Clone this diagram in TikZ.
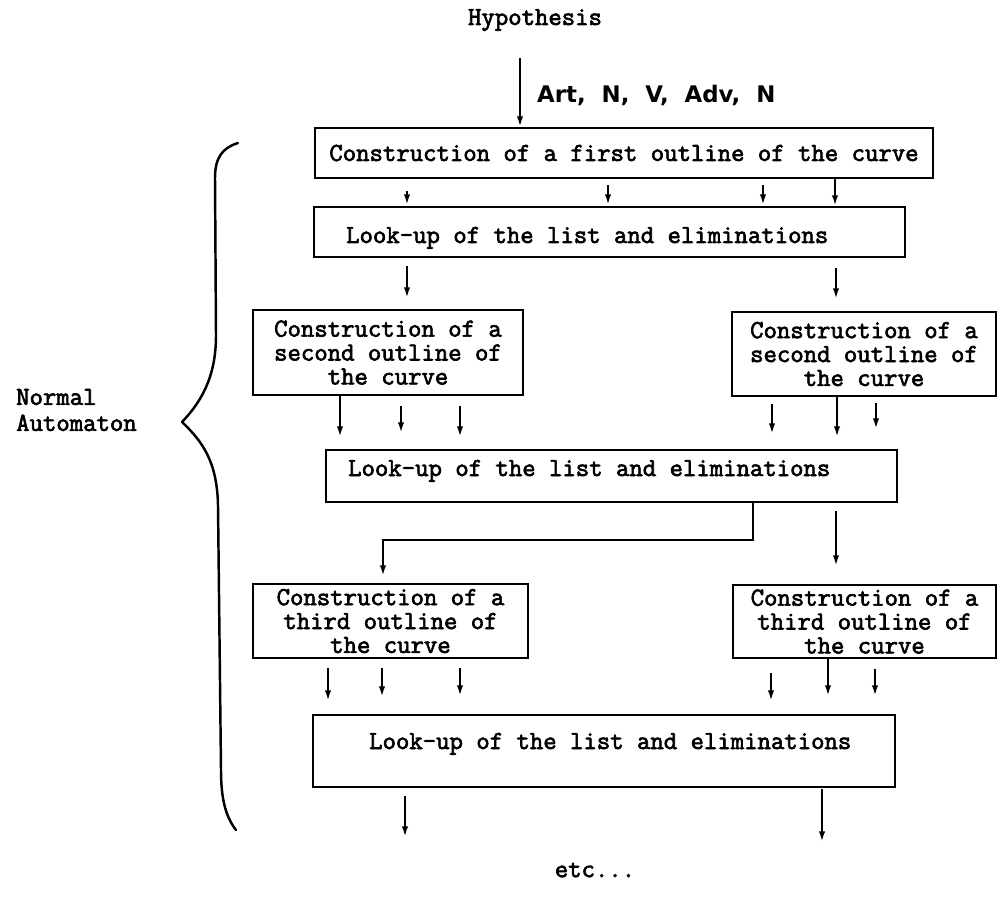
\documentclass[tikz,border=0pt]{standalone}
\usepackage{fontspec}
\newfontfamily\typewriter[FakeBold=2.5]{Latin Modern Mono}
\newfontfamily\tagfont{DejaVu Sans}
\usetikzlibrary{arrows.meta,calc}

\tikzset{
  typed/.style={font={\typewriter\fontsize{14.8}{13.6}\selectfont}},
  tagged/.style={font={\tagfont\bfseries\fontsize{13}{15}\selectfont}},
  stage/.style={draw, line width=1.2pt, inner sep=0pt, typed, align=center},
  arr/.style={line width=1.2pt, -{Latex[length=6pt,width=3.6pt]}},
  brace/.style={line width=1.4pt, line cap=round, line join=round},
}

% vertical feed arrow at abscissa #1, from node anchor #2 (offset #3) to node anchor #4 (offset #5)
\newcommand\feedarrow[5]{\draw[arr] ($(#1,0 |- #2)+(0,#3)$) -- ($(#1,0 |- #4)+(0,#5)$);}

\begin{document}
\begin{tikzpicture}[x=0.02cm,y=-0.02cm]
\path[use as bounding box, fill=white] (0,0) rectangle (997,898);

% input
\node[typed] (hyp) at (535,20) {Hypothesis};
\coordinate (hypout) at (520,58);

% first outline and its look-up
\node[stage, minimum width=12.36cm, minimum height=1cm] (b1) at (624,153)
  {Construction of a first outline of the curve};
\draw[arr] (hypout) -- (hypout |- b1.north);
\node[tagged, anchor=west] (words) at (531,95) {Art,\ \ N,\ \ V,\ \ Adv,\ \ N};

\node[stage, minimum width=11.82cm, minimum height=1cm] (b2) at (609.5,232) {};
\node[typed, anchor=base west] (b2text) at (340,243) {Look-up of the list and eliminations};

\feedarrow{407}{b1.south}{12}{b2.north}{-1}
\feedarrow{608}{b1.south}{6}{b2.north}{-1}
\feedarrow{763}{b1.south}{6}{b2.north}{-1}
\feedarrow{835}{b1.south}{0}{b2.north}{0}

% second outlines
\node[stage, minimum width=5.4cm, minimum height=1.7cm] (b3l) at (388,352.5)
  {Construction of a\\second outline of\\the curve};
\node[stage, minimum width=5.28cm, minimum height=1.68cm] (b3r) at (864,354)
  {Construction of a\\second outline of\\the curve};

\feedarrow{407}{b2.south}{8}{b3l.north}{-11}
\feedarrow{836}{b2.south}{10}{b3r.north}{-12}

% second look-up
\node[stage, minimum width=11.42cm, minimum height=1.04cm] (b4) at (611.5,476) {};
\node[typed, anchor=base west] (b4text) at (342,476) {Look-up of the list and eliminations};

\feedarrow{340}{b3l.south}{0}{b4.north}{-12}
\feedarrow{401}{b3l.south}{10}{b4.north}{-16}
\feedarrow{460}{b3l.south}{10}{b4.north}{-12}
\feedarrow{772}{b3r.south}{7}{b4.north}{-15}
\feedarrow{837}{b3r.south}{0}{b4.north}{-12}
\feedarrow{876}{b3r.south}{6}{b4.north}{-20}

% third outlines
\node[stage, minimum width=5.5cm, minimum height=1.48cm] (b5l) at (390.5,621)
  {Construction of a\\third outline of\\the curve};
\node[stage, minimum width=5.26cm, minimum height=1.46cm] (b5r) at (864.5,621.5)
  {Construction of a\\third outline of\\the curve};

\draw[arr] (753,0 |- b4.south) -- (753,540) -- (383,540) -- ($(383,0 |- b5l.north)+(0,-7)$);
\feedarrow{836}{b4.south}{8}{b5r.north}{-18}

% third look-up
\node[stage, minimum width=11.64cm, minimum height=1.44cm] (b6) at (604,751) {};
\node[typed, anchor=base west] (b6text) at (363,749) {Look-up of the list and eliminations};

\feedarrow{328}{b5l.south}{9}{b6.north}{-13}
\feedarrow{382}{b5l.south}{9}{b6.north}{-17}
\feedarrow{460}{b5l.south}{9}{b6.north}{-18}
\feedarrow{771}{b5r.south}{14}{b6.north}{-13}
\feedarrow{828}{b5r.south}{0}{b6.north}{-18}
\feedarrow{875}{b5r.south}{10}{b6.north}{-18}

% open ends
\coordinate (endl) at (405,837);
\coordinate (endr) at (822,842);
\draw[arr] ($(endl |- b6.south)+(0,8)$) -- (endl);
\draw[arr] ($(endr |- b6.south)+(0,1)$) -- (endr);
\node[typed] (etc) at (595,870) {etc...};

% grouping brace
\draw[brace] (238,143) .. controls (222,148) and (215,158) .. (215,178)
  -- (216,335) .. controls (216,372) and (205,398) .. (182,422)
  .. controls (203,442) and (217,462) .. (218,505)
  -- (221,770) .. controls (221,800) and (226,817) .. (236,830);
\node[typed, anchor=west, align=left, font={\typewriter\fontsize{14.8}{14.8}\selectfont}]
  (side) at (10,410) {Normal\\Automaton};
\end{tikzpicture}
\end{document}
